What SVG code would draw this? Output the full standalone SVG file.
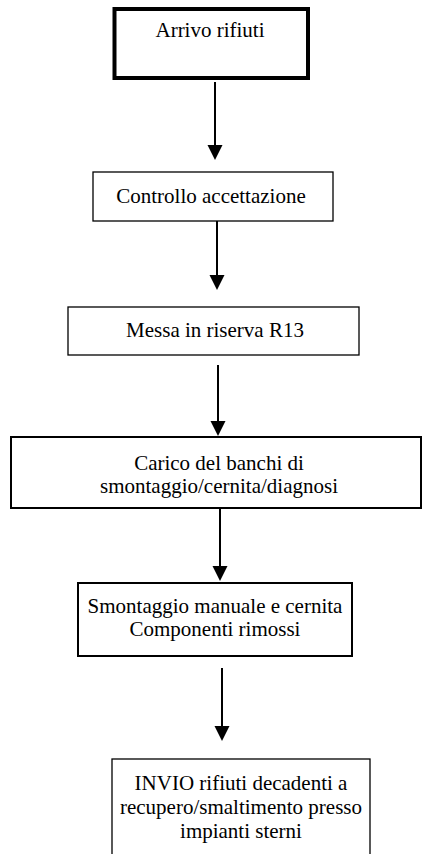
<svg xmlns="http://www.w3.org/2000/svg" width="424" height="854" viewBox="0 0 424 854">
<style>
.box{fill:#fff;stroke:#000;stroke-width:1.3}
.thick{stroke-width:4}
.med{stroke-width:2}
.ln{stroke:#000;stroke-width:2;fill:none}
.ah{fill:#000}
</style>
<g id="connectors">
<line class="ln" x1="215" y1="82" x2="215" y2="146"/><path class="ah" d="M207.5,145 L222.5,145 L215,160 Z"/>
<line class="ln" x1="217" y1="221" x2="217" y2="276"/><path class="ah" d="M209.5,275 L224.5,275 L217,290 Z"/>
<line class="ln" x1="218" y1="365" x2="218" y2="422"/><path class="ah" d="M210.5,421 L225.5,421 L218,436 Z"/>
<line class="ln" x1="220" y1="509" x2="220" y2="567"/><path class="ah" d="M212.5,566 L227.5,566 L220,581 Z"/>
<line class="ln" x1="222" y1="668" x2="222" y2="727"/><path class="ah" d="M214.5,726 L229.5,726 L222,741 Z"/>
</g>
<g font-family="Liberation Serif, Times New Roman, serif" font-size="21" text-anchor="middle" fill="#000">
<g id="n1"><rect class="box thick" x="114.5" y="9" width="193.5" height="69"/><text x="210" y="37">Arrivo rifiuti</text></g>
<g id="n2"><rect class="box" x="93" y="172" width="240" height="49"/><text x="211" y="203">Controllo accettazione</text></g>
<g id="n3"><rect class="box" x="68" y="307" width="291" height="48"/><text x="215" y="337">Messa in riserva R13</text></g>
<g id="n4"><rect class="box med" x="11" y="437" width="410" height="71"/><text x="219" y="470">Carico del banchi di</text><text x="219" y="493">smontaggio/cernita/diagnosi</text></g>
<g id="n5"><rect class="box med" x="78" y="583" width="274" height="73"/><text x="215" y="613">Smontaggio manuale e cernita</text><text x="215" y="636">Componenti rimossi</text></g>
<g id="n6"><rect class="box" x="112" y="759" width="258" height="110"/><text x="241" y="790">INVIO rifiuti decadenti a</text><text x="241" y="814">recupero/smaltimento presso</text><text x="241" y="838">impianti sterni</text></g>
</g>
</svg>
